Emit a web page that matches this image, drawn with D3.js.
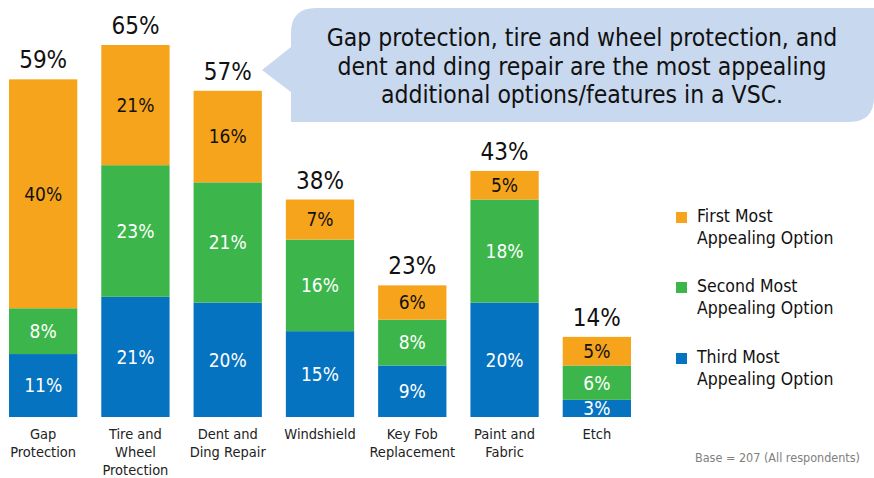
<!DOCTYPE html>
<html>
<head>
<meta charset="utf-8">
<script src="https://cdn.jsdelivr.net/npm/d3@7"></script>
<style>
  body { margin: 0; background: #fff; }
  svg { display: block; font-family: "DejaVu Sans Condensed", "DejaVu Sans", sans-serif; font-stretch: condensed; }
</style>
</head>
<body>
<div id="chart"></div>
<script>
/* Most appealing VSC options - stacked bars */

const categories = ["Gap Protection", "Tire and Wheel Protection", "Dent and Ding Repair",
    "Windshield", "Key Fob Replacement", "Paint and Fabric", "Etch"];
const categoryLines = [["Gap", "Protection"], ["Tire and", "Wheel", "Protection"], ["Dent and", "Ding Repair"],
    ["Windshield"], ["Key Fob", "Replacement"], ["Paint and", "Fabric"], ["Etch"]];
const thirdMost = [11, 21, 20, 15, 9, 20, 3];
const secondMost = [8, 23, 21, 16, 8, 18, 6];
const firstMost = [40, 21, 16, 7, 6, 5, 5];
const totals = [59, 65, 57, 38, 23, 43, 14];
const seriesNames = ["Third Most Appealing Option", "Second Most Appealing Option", "First Most Appealing Option"];
const calloutLines = ["Gap protection, tire and wheel protection, and",
    "dent and ding repair are the most appealing",
    "additional options/features in a VSC."];
const baseNote = "Base = 207 (All respondents)";

const width = 874, height = 478;
const colors = ["#0573BF", "#3CB64B", "#F7A41D"];
const textColors = ["#fff", "#fff", "#111"];

const data = categories.map((c, i) => ({
    key: c, lines: categoryLines[i], total: totals[i],
    third: thirdMost[i], second: secondMost[i], first: firstMost[i]
}));
const keys = ["third", "second", "first"];
const stacked = d3.stack().keys(keys)(data);

let svg = d3.select("#chart")
    .append("svg")
    .attr("width", width)
    .attr("height", height)
    .attr("viewBox", [0, 0, width, height]);

let x = d3.scaleBand()
    .domain(categories)
    .range([9, 631])
    .paddingInner(0.26)
    .paddingOuter(0);

let y = d3.scaleLinear()
    .domain([0, 65])
    .range([417, 45]);

// callout bubble
const r = 25, cx0 = 291, cx1 = 874, cy0 = 8, cy1 = 122;
svg.append("path")
    .attr("fill", "#C8D8EE")
    .attr("d", `M${cx0 + r},${cy0} L${cx1},${cy0} L${cx1},${cy1 - r} Q${cx1},${cy1} ${cx1 - r},${cy1}
        L${cx0},${cy1} L${cx0},92 L262,70 L${cx0},47 L${cx0},${cy0 + r} Q${cx0},${cy0} ${cx0 + r},${cy0} Z`);

svg.append("text")
    .attr("text-anchor", "middle")
    .attr("font-size", 24.5)
    .attr("fill", "#111")
    .selectAll("tspan")
    .data(calloutLines)
    .join("tspan")
    .attr("x", 582)
    .attr("y", (d, i) => 46 + i * 28.5)
    .text(d => d);

// bars
let layer = svg.selectAll(".layer")
    .data(stacked)
    .join("g")
    .attr("class", "layer")
    .attr("fill", (d, i) => colors[i]);

layer.selectAll("rect")
    .data(d => d)
    .join("rect")
    .attr("x", d => x(d.data.key))
    .attr("width", x.bandwidth())
    .attr("y", d => y(d[1]))
    .attr("height", d => y(d[0]) - y(d[1]));

layer.each(function(s, i) {
    d3.select(this).selectAll("text")
        .data(s)
        .join("text")
        .attr("x", d => x(d.data.key) + x.bandwidth() / 2)
        .attr("y", d => (y(d[0]) + y(d[1])) / 2)
        .attr("dy", "0.36em")
        .attr("text-anchor", "middle")
        .attr("font-size", 19)
        .attr("fill", textColors[i])
        .text(d => (d[1] - d[0]) + "%");
});

// totals
svg.selectAll(".total")
    .data(data)
    .join("text")
    .attr("class", "total")
    .attr("x", d => x(d.key) + x.bandwidth() / 2)
    .attr("y", d => y(d.total) - 11)
    .attr("text-anchor", "middle")
    .attr("font-size", 24)
    .attr("fill", "#111")
    .text(d => d.total + "%");

// category labels
svg.selectAll(".cat")
    .data(data)
    .join("text")
    .attr("class", "cat")
    .attr("text-anchor", "middle")
    .attr("font-size", 14.5)
    .attr("fill", "#222")
    .selectAll("tspan")
    .data(d => d.lines.map(l => ({ l, key: d.key })))
    .join("tspan")
    .attr("x", d => x(d.key) + x.bandwidth() / 2)
    .attr("y", (d, i) => 439 + i * 18)
    .text(d => d.l);

// legend
const legendY = [212, 282, 353];
let legend = svg.selectAll(".legend")
    .data([2, 1, 0])
    .join("g")
    .attr("class", "legend")
    .attr("transform", (d, i) => `translate(676,${legendY[i]})`);

legend.append("rect")
    .attr("width", 11)
    .attr("height", 11)
    .attr("fill", d => colors[d]);

legend.append("text")
    .attr("font-size", 17.5)
    .attr("fill", "#111")
    .selectAll("tspan")
    .data(d => {
        const words = seriesNames[d].split(" ");
        return [words.slice(0, 2).join(" "), words.slice(2).join(" ")];
    })
    .join("tspan")
    .attr("x", 21)
    .attr("y", (d, i) => 10 + i * 22)
    .text(d => d);

svg.append("text")
    .attr("x", 860)
    .attr("y", 462)
    .attr("text-anchor", "end")
    .attr("font-size", 12.5)
    .attr("fill", "#808080")
    .text(baseNote);
</script>
</body>
</html>
